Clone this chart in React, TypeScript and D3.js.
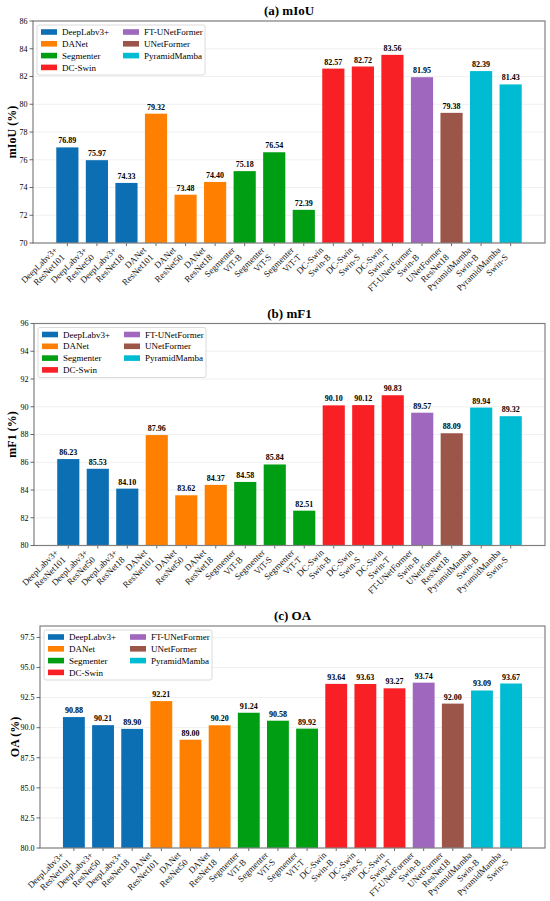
import React from "react";
import * as d3 from "d3";

const models = ["DeepLabv3+", "DeepLabv3+", "DeepLabv3+", "DANet", "DANet", "DANet", "Segmenter", "Segmenter", "Segmenter", "DC-Swin", "DC-Swin", "DC-Swin", "FT-UNetFormer", "UNetFormer", "PyramidMamba", "PyramidMamba"];
const backbones = ["ResNet101", "ResNet50", "ResNet18", "ResNet101", "ResNet50", "ResNet18", "ViT-B", "ViT-S", "ViT-T", "Swin-B", "Swin-S", "Swin-T", "Swin-B", "ResNet18", "Swin-B", "Swin-S"];

const miouValues = [76.89, 75.97, 74.33, 79.32, 73.48, 74.40, 75.18, 76.54, 72.39, 82.57, 82.72, 83.56, 81.95, 79.38, 82.39, 81.43];
const mf1Values = [86.23, 85.53, 84.10, 87.96, 83.62, 84.37, 84.58, 85.84, 82.51, 90.10, 90.12, 90.83, 89.57, 88.09, 89.94, 89.32];
const oaValues = [90.88, 90.21, 89.90, 92.21, 89.00, 90.20, 91.24, 90.58, 89.92, 93.64, 93.63, 93.27, 93.74, 92.00, 93.09, 93.67];

const miouTicks = [70, 72, 74, 76, 78, 80, 82, 84, 86];
const mf1Ticks = [80, 82, 84, 86, 88, 90, 92, 94, 96];
const oaTicks = [80.0, 82.5, 85.0, 87.5, 90.0, 92.5, 95.0, 97.5];

const legendModels = ["DeepLabv3+", "DANet", "Segmenter", "DC-Swin", "FT-UNetFormer", "UNetFormer", "PyramidMamba"];
const modelColors = ["#0d6fb3", "#ff8000", "#009e12", "#f82024", "#a067bf", "#9c5549", "#00bcd2"];

const FONT = "'Liberation Serif', 'Times New Roman', serif";

type Panel = {
  title: string;
  ylabel: string;
  values: number[];
  domain: [number, number];
  ticks: number[];
  fmt: (v: number) => string;
  left: number;
  right: number;
  top: number;
  bottom: number;
  ylabelX: number;
};

const panels: Panel[] = [
  { title: "(a) mIoU", ylabel: "mIoU (%)", values: miouValues, domain: [70, 86], ticks: miouTicks, fmt: d3.format("d"), left: 33, right: 545, top: 21, bottom: 243, ylabelX: 12 },
  { title: "(b) mF1", ylabel: "mF1 (%)", values: mf1Values, domain: [80, 96], ticks: mf1Ticks, fmt: d3.format("d"), left: 34, right: 545, top: 323.5, bottom: 545.5, ylabelX: 12 },
  { title: "(c) OA", ylabel: "OA (%)", values: oaValues, domain: [80, 98.45], ticks: oaTicks, fmt: d3.format(".1f"), left: 40, right: 545, top: 626, bottom: 848, ylabelX: 15 },
];

const colorScale = d3.scaleOrdinal<string, string>().domain(legendModels).range(modelColors);

function PanelChart({ p }: { p: Panel }) {
  const n = p.values.length;
  const bw = 0.75;
  const span = n - 1 + bw;
  const margin = span * 0.05;
  const x = d3.scaleLinear().domain([-bw / 2 - margin, n - 1 + bw / 2 + margin]).range([p.left, p.right]);
  const y = d3.scaleLinear().domain(p.domain).range([p.bottom, p.top]);
  const barW = x(bw) - x(0);
  const xfs = 9;
  const lh = 10.2;
  const shift = (2 * lh) / Math.SQRT2;
  const yb = p.bottom + 2.5;
  const cx = (p.left + p.right) / 2;
  const cy = (p.top + p.bottom) / 2;
  const lgX = p.left + 4;
  const lgY = p.top + 4;
  const rowH = 11.8;
  return (
    <g>
      <text x={cx} y={p.top - 6} textAnchor="middle" fontFamily={FONT} fontWeight="bold" fontSize={13}>{p.title}</text>
      {p.ticks.map((t) => (
        <line key={"g" + t} x1={p.left} x2={p.right} y1={y(t)} y2={y(t)} stroke="#ececec" strokeWidth={0.8} />
      ))}
      {p.values.map((v, i) => (
        <g key={"b" + i}>
          <rect x={x(i) - barW / 2} y={y(v)} width={barW} height={p.bottom - y(v)} fill={colorScale(models[i])} />
          <text x={x(i)} y={y(v) - 4} textAnchor="middle" fontFamily={FONT} fontWeight="bold" fontSize={8}>{v.toFixed(2)}</text>
          <line x1={x(i)} x2={x(i)} y1={p.bottom} y2={p.bottom + 3} stroke="#444" strokeWidth={0.8} />
          <g transform={`translate(${x(i) - shift},${yb}) rotate(-45)`}>
            <text textAnchor="end" fontFamily={FONT} fontSize={xfs} fill="#111">
              <tspan x={0} y={7.2}>{models[i]}</tspan>
              <tspan x={0} y={7.2 + lh}>{backbones[i]}</tspan>
            </text>
          </g>
        </g>
      ))}
      <rect x={p.left} y={p.top} width={p.right - p.left} height={p.bottom - p.top} fill="none" stroke="#808080" strokeWidth={1.2} />
      {p.ticks.map((t) => (
        <g key={"t" + t}>
          <line x1={p.left - 3.5} x2={p.left} y1={y(t)} y2={y(t)} stroke="#444" strokeWidth={0.8} />
          <text x={p.left - 5.5} y={y(t) + 2.8} textAnchor="end" fontFamily={FONT} fontSize={8}>{p.fmt(t)}</text>
        </g>
      ))}
      <text transform={`translate(${p.ylabelX},${cy}) rotate(-90)`} textAnchor="middle" dominantBaseline="central" fontFamily={FONT} fontWeight="bold" fontSize={12}>{p.ylabel}</text>
      <rect x={lgX} y={lgY} width={168} height={50} rx={2} fill="white" fillOpacity={0.85} stroke="#d0d0d0" strokeWidth={0.8} />
      {legendModels.map((m, k) => {
        const col = k < 4 ? 0 : 1;
        const row = k < 4 ? k : k - 4;
        const px = lgX + 4 + col * 82;
        const py = lgY + 7 + row * rowH;
        return (
          <g key={"l" + m}>
            <rect x={px} y={py - 2.8} width={16} height={5.6} fill={colorScale(m)} />
            <text x={px + 21} y={py + 3.1} fontFamily={FONT} fontSize={9}>{m}</text>
          </g>
        );
      })}
    </g>
  );
}

export default function App() {
  return (
    <div style={{ position: "absolute", left: 0, top: 0, width: 550, height: 901, background: "white" }}>
      <svg width={550} height={901} style={{ display: "block" }}>
        <rect width={550} height={901} fill="white" />
        {panels.map((p) => (
          <PanelChart key={p.title} p={p} />
        ))}
      </svg>
    </div>
  );
}
